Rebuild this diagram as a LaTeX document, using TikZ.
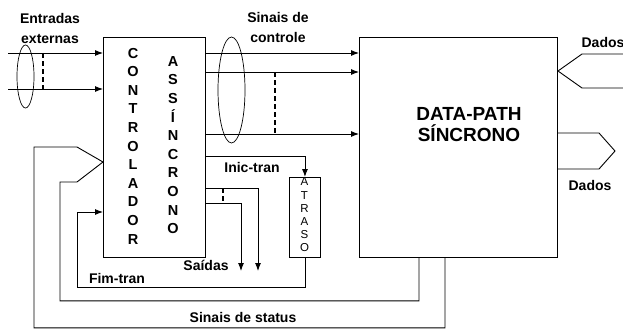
\documentclass[tikz,border=0pt]{standalone}
\usepackage{fontspec}
\setmainfont{Liberation Sans}
\usetikzlibrary{arrows.meta,shapes,positioning}

\tikzset{
  bloco/.style={draw, line width=0.9pt, inner sep=0pt, anchor=north west},
  sinal/.style={line width=0.9pt},
  barra/.style={line width=1.4pt, dash pattern=on 5pt off 3pt},
  feixe/.style={draw, ellipse, line width=0.7pt, inner sep=0pt},
  rotulo/.style={font=\bfseries\fontsize{14}{20}\selectfont, inner sep=0pt, align=center},
  letras/.style={font=\bfseries\fontsize{14.5}{18.6}\selectfont, inner sep=0pt, align=center},
}

\begin{document}
\begin{tikzpicture}[x=1pt, y=-1pt, >={Latex[length=8pt,width=6pt]}]
    \useasboundingbox (0,0) rectangle (623,329);

    % Blocks
    \node[bloco, minimum width=102pt, minimum height=220pt] (ctrl) at (103,37) {};
    \node[bloco, minimum width=198pt, minimum height=220pt] (dp) at (359,37) {};
    \node[bloco, minimum width=31pt, minimum height=80pt] (atraso) at (289,177) {};

    \node[letras] (txtctrl) at (133,146) {C\\O\\N\\T\\R\\O\\L\\A\\D\\O\\R};
    \node[letras] (txtass) at (173,145) {A\\S\\S\\Í\\N\\C\\R\\O\\N\\O};
    \node[font=\fontsize{11.5}{13.2}\selectfont, inner sep=0pt, align=center] (txtatr) at (304.5,215) {A\\T\\R\\A\\S\\O};
    \node[font=\bfseries\fontsize{19}{21}\selectfont, inner sep=0pt, align=center] (txtdp) at (469,125) {DATA-PATH\\SÍNCRONO};

    % Entradas externas
    \coordinate (e1) at (8,53);
    \coordinate (e2) at (8,89);
    \draw[sinal,->] (e1) -- (e1 -| ctrl.west);
    \draw[sinal,->] (e2) -- (e2 -| ctrl.west);
    \node[feixe, minimum width=17pt, minimum height=63pt] (bus1) at (25.5,76.5) {};
    \draw[barra] (43,53) -- (43,89);
    \node[rotulo] (lblentr) at (50,28) {Entradas\\externas};

    % Sinais de controle
    \coordinate (s1) at (205,53);
    \coordinate (s2) at (205,72);
    \coordinate (s3) at (205,134);
    \draw[sinal,->] (s1) -- (s1 -| dp.west);
    \draw[sinal,->] (s2) -- (s2 -| dp.west);
    \draw[sinal,->] (s3) -- (s3 -| dp.west);
    \node[feixe, minimum width=27pt, minimum height=106pt] (bus2) at (231.5,90) {};
    \draw[barra] (275,72) -- (275,134);
    \node[rotulo] (lblctrl) at (278,27) {Sinais de\\controle};

    % Inic-tran / Fim-tran
    \coordinate (it) at (205,156);
    \draw[sinal,->] (it) -| (atraso.north);
    \node[rotulo] (lblinic) at (252,167) {Inic-tran};
    \coordinate (ft) at (77,212);
    \draw[sinal,->] (atraso.south) -- ++(0,30) -| (ft) -- (ft -| ctrl.west);
    \node[rotulo] (lblfim) at (117,278) {Fim-tran};

    % Saidas
    \coordinate (sa1) at (205,188);
    \coordinate (sa2) at (205,203);
    \coordinate (fs1) at (258,271);
    \coordinate (fs2) at (241,271);
    \draw[sinal,->] (sa1) -| (fs1);
    \draw[sinal,->] (sa2) -| (fs2);
    \draw[barra] (223,188) -- (223,203);
    \node[rotulo] (lblsai) at (206,265) {Saídas};

    % Sinais de status
    \coordinate (ponta) at (103,162);
    \draw[sinal] ([xshift=60pt]dp.south west) -- ++(0,43) -| (60,182) -- (77,182) -- (ponta);
    \draw[sinal] ([xshift=86pt]dp.south west) -- ++(0,70) -| (34,147) -- (77,147) -- (ponta);
    \node[rotulo] (lblstat) at (243,317) {Sinais de status};

    % Dados
    \draw[sinal] (623,54) -- (582,54) -- (558,71) -- (582,88) -- (623,88);
    \node[rotulo] (lbldin) at (603,42) {Dados};
    \draw[sinal] (dp.east |- 0,133) -- (599,133) -- (615,151) -- (599,169) -- (dp.east |- 0,169);
    \node[rotulo] (lbldout) at (590,185) {Dados};
\end{tikzpicture}
\end{document}
